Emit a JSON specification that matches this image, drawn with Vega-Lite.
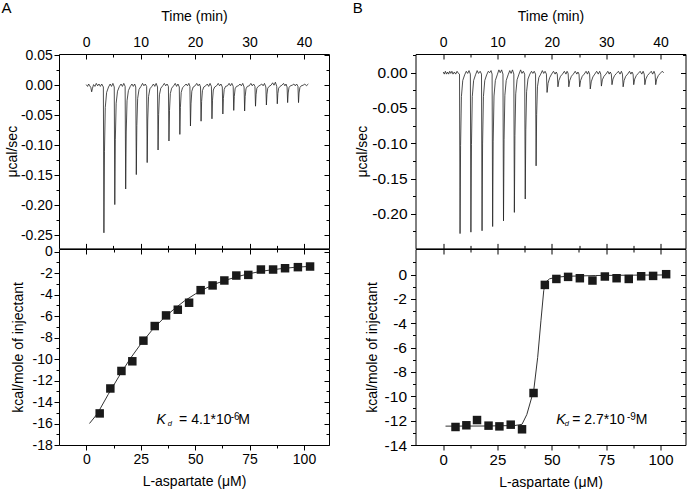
{
"$schema": "https://vega.github.io/schema/vega-lite/v6.json",
"background": "white",
"padding": {"left": 0, "top": 0, "right": 5, "bottom": 2},
"config": {
  "view": {"stroke": "#000", "strokeWidth": 1},
  "font": "Liberation Sans",
  "locale": {"number": {"decimal": ".", "thousands": ",", "grouping": [3], "currency": ["$", ""], "minus": "-"}},
  "axis": {"domain": false, "grid": false, "ticks": true, "tickColor": "#000", "tickOpacity": 1, "tickWidth": 1, "labelColor": "#000", "titleColor": "#000", "labelFont": "Liberation Sans", "titleFont": "Liberation Sans", "labelFontSize": 14, "titleFontSize": 14, "titleFontWeight": "normal", "labelFlush": false, "labelOverlap": false, "labelBound": false},
  "title": {"font": "Liberation Sans", "fontSize": 15, "fontWeight": "normal", "color": "#000"}
},
"datasets": {
  "ta": [
    {"t":0,"v":0.001},{"t":0.25,"v":-0.002},{"t":0.45,"v":0.002},{"t":0.65,"v":-0.001},{"t":0.85,"v":-0.004},{"t":1.0,"v":-0.011},{"t":1.15,"v":-0.005},{"t":1.35,"v":0.001},{"t":1.6,"v":-0.002},{"t":1.85,"v":0.003},{"t":2.1,"v":-0.001},{"t":2.35,"v":0.002},{"t":2.6,"v":-0.002},{"t":2.85,"v":0.002},
    {"t":3.15,"v":-0.003},{"t":3.25,"v":-0.246},{"t":3.35,"v":-0.111},{"t":3.5,"v":-0.037},{"t":3.75,"v":-0.012},{"t":4.1,"v":-0.003},{"t":4.4,"v":0.002},{"t":4.65,"v":-0.002},{"t":4.9,"v":0.003},
    {"t":5.15,"v":-0.003},{"t":5.25,"v":-0.199},{"t":5.35,"v":-0.090},{"t":5.5,"v":-0.030},{"t":5.75,"v":-0.010},{"t":6.1,"v":-0.002},{"t":6.4,"v":0.002},{"t":6.65,"v":-0.002},{"t":6.9,"v":0.003},
    {"t":7.15,"v":-0.002},{"t":7.25,"v":-0.173},{"t":7.35,"v":-0.078},{"t":7.5,"v":-0.026},{"t":7.75,"v":-0.009},{"t":8.1,"v":-0.002},{"t":8.4,"v":0.002},{"t":8.65,"v":-0.002},{"t":8.9,"v":0.002},
    {"t":9.1,"v":-0.003},{"t":9.2,"v":-0.149},{"t":9.3,"v":-0.067},{"t":9.45,"v":-0.022},{"t":9.7,"v":-0.007},{"t":10.05,"v":-0.002},{"t":10.35,"v":0.003},{"t":10.6,"v":-0.001},{"t":10.85,"v":0.002},
    {"t":11.1,"v":-0.002},{"t":11.2,"v":-0.129},{"t":11.3,"v":-0.058},{"t":11.45,"v":-0.019},{"t":11.7,"v":-0.006},{"t":12.05,"v":-0.002},{"t":12.35,"v":0.002},{"t":12.6,"v":-0.002},{"t":12.85,"v":0.003},
    {"t":13.1,"v":-0.003},{"t":13.2,"v":-0.108},{"t":13.3,"v":-0.049},{"t":13.45,"v":-0.016},{"t":13.7,"v":-0.005},{"t":14.05,"v":-0.001},{"t":14.35,"v":0.003},{"t":14.6,"v":-0.001},{"t":14.85,"v":0.002},
    {"t":15.1,"v":-0.002},{"t":15.2,"v":-0.093},{"t":15.3,"v":-0.042},{"t":15.45,"v":-0.014},{"t":15.7,"v":-0.005},{"t":16.05,"v":-0.001},{"t":16.35,"v":0.003},{"t":16.6,"v":-0.002},{"t":16.85,"v":0.002},
    {"t":17.1,"v":-0.003},{"t":17.2,"v":-0.082},{"t":17.3,"v":-0.037},{"t":17.45,"v":-0.012},{"t":17.7,"v":-0.004},{"t":18.05,"v":-0.001},{"t":18.35,"v":0.002},{"t":18.6,"v":-0.001},{"t":18.85,"v":0.003},
    {"t":19.05,"v":-0.002},{"t":19.15,"v":-0.068},{"t":19.25,"v":-0.031},{"t":19.4,"v":-0.010},{"t":19.65,"v":-0.003},{"t":20.0,"v":-0.001},{"t":20.3,"v":0.003},{"t":20.55,"v":-0.001},{"t":20.8,"v":0.002},
    {"t":21.0,"v":-0.003},{"t":21.1,"v":-0.060},{"t":21.2,"v":-0.027},{"t":21.35,"v":-0.009},{"t":21.6,"v":-0.003},{"t":21.95,"v":-0.001},{"t":22.25,"v":0.002},{"t":22.5,"v":-0.002},{"t":22.75,"v":0.003},
    {"t":23.0,"v":-0.002},{"t":23.1,"v":-0.056},{"t":23.2,"v":-0.025},{"t":23.35,"v":-0.008},{"t":23.6,"v":-0.003},{"t":23.95,"v":-0.001},{"t":24.25,"v":0.003},{"t":24.5,"v":-0.001},{"t":24.75,"v":0.002},
    {"t":25.0,"v":-0.003},{"t":25.1,"v":-0.048},{"t":25.2,"v":-0.022},{"t":25.35,"v":-0.007},{"t":25.6,"v":-0.002},{"t":25.95,"v":-0.001},{"t":26.25,"v":0.003},{"t":26.5,"v":-0.001},{"t":26.75,"v":0.003},
    {"t":27.0,"v":-0.002},{"t":27.1,"v":-0.042},{"t":27.2,"v":-0.019},{"t":27.35,"v":-0.006},{"t":27.6,"v":-0.002},{"t":27.95,"v":-0.001},{"t":28.25,"v":0.002},{"t":28.5,"v":-0.001},{"t":28.75,"v":0.003},
    {"t":29.0,"v":-0.003},{"t":29.1,"v":-0.043},{"t":29.2,"v":-0.019},{"t":29.35,"v":-0.006},{"t":29.6,"v":-0.002},{"t":29.95,"v":-0.001},{"t":30.25,"v":0.003},{"t":30.5,"v":-0.001},{"t":30.75,"v":0.002},
    {"t":31.0,"v":-0.002},{"t":31.1,"v":-0.035},{"t":31.2,"v":-0.016},{"t":31.35,"v":-0.005},{"t":31.6,"v":-0.002},{"t":31.95,"v":0.000},{"t":32.25,"v":0.002},{"t":32.5,"v":-0.001},{"t":32.75,"v":0.003},
    {"t":33.0,"v":-0.003},{"t":33.1,"v":-0.033},{"t":33.2,"v":-0.015},{"t":33.35,"v":-0.005},{"t":33.6,"v":-0.002},{"t":33.95,"v":0.000},{"t":34.25,"v":0.004},{"t":34.5,"v":0.000},{"t":34.75,"v":0.005},
    {"t":35.0,"v":-0.002},{"t":35.1,"v":-0.031},{"t":35.2,"v":-0.014},{"t":35.35,"v":-0.005},{"t":35.6,"v":-0.002},{"t":35.95,"v":0.000},{"t":36.25,"v":0.003},{"t":36.5,"v":-0.001},{"t":36.7,"v":0.002},
    {"t":36.9,"v":-0.003},{"t":37.0,"v":-0.029},{"t":37.1,"v":-0.013},{"t":37.25,"v":-0.004},{"t":37.5,"v":-0.001},{"t":37.85,"v":0.000},{"t":38.15,"v":0.002},{"t":38.4,"v":-0.001},{"t":38.65,"v":0.002},
    {"t":38.9,"v":-0.002},{"t":39.0,"v":-0.029},{"t":39.1,"v":-0.013},{"t":39.25,"v":-0.004},{"t":39.5,"v":-0.001},{"t":39.85,"v":0.000},{"t":40.15,"v":0.002},{"t":40.45,"v":-0.001},{"t":40.8,"v":0.002}
  ],
  "tb": [
    {"t":0,"v":0.001},{"t":0.2,"v":-0.002},{"t":0.4,"v":0.002},{"t":0.6,"v":-0.002},{"t":0.8,"v":0.001},{"t":1.0,"v":-0.002},{"t":1.2,"v":0.002},{"t":1.4,"v":-0.001},{"t":1.6,"v":0.002},{"t":1.8,"v":-0.002},{"t":2.05,"v":0.001},{"t":2.3,"v":-0.002},{"t":2.55,"v":0.002},{"t":2.8,"v":-0.001},
    {"t":3.0,"v":-0.002},{"t":3.1,"v":-0.228},{"t":3.2,"v":-0.103},{"t":3.35,"v":-0.034},{"t":3.6,"v":-0.011},{"t":3.95,"v":-0.003},{"t":4.25,"v":0.002},{"t":4.5,"v":-0.001},{"t":4.75,"v":0.003},
    {"t":5.0,"v":-0.002},{"t":5.1,"v":-0.226},{"t":5.2,"v":-0.102},{"t":5.35,"v":-0.034},{"t":5.6,"v":-0.011},{"t":5.95,"v":-0.003},{"t":6.25,"v":0.003},{"t":6.5,"v":-0.001},{"t":6.8,"v":0.002},
    {"t":7.05,"v":-0.002},{"t":7.15,"v":-0.224},{"t":7.25,"v":-0.101},{"t":7.4,"v":-0.034},{"t":7.65,"v":-0.011},{"t":8.0,"v":-0.003},{"t":8.3,"v":0.002},{"t":8.55,"v":0.000},{"t":8.8,"v":0.003},
    {"t":9.0,"v":-0.002},{"t":9.1,"v":-0.218},{"t":9.2,"v":-0.098},{"t":9.35,"v":-0.033},{"t":9.6,"v":-0.011},{"t":9.95,"v":-0.003},{"t":10.25,"v":0.004},{"t":10.5,"v":0.000},{"t":10.75,"v":0.004},
    {"t":11.0,"v":-0.002},{"t":11.1,"v":-0.210},{"t":11.2,"v":-0.095},{"t":11.35,"v":-0.032},{"t":11.6,"v":-0.011},{"t":11.95,"v":-0.003},{"t":12.25,"v":0.003},{"t":12.5,"v":-0.001},{"t":12.75,"v":0.004},
    {"t":13.0,"v":-0.002},{"t":13.1,"v":-0.198},{"t":13.2,"v":-0.089},{"t":13.35,"v":-0.030},{"t":13.6,"v":-0.010},{"t":13.95,"v":-0.002},{"t":14.25,"v":0.004},{"t":14.5,"v":-0.001},{"t":14.75,"v":0.002},
    {"t":15.0,"v":-0.002},{"t":15.1,"v":-0.179},{"t":15.2,"v":-0.081},{"t":15.35,"v":-0.027},{"t":15.6,"v":-0.009},{"t":15.95,"v":-0.002},{"t":16.25,"v":0.002},{"t":16.5,"v":-0.001},{"t":16.75,"v":0.002},
    {"t":17.0,"v":-0.002},{"t":17.1,"v":-0.132},{"t":17.2,"v":-0.059},{"t":17.35,"v":-0.020},{"t":17.6,"v":-0.007},{"t":17.95,"v":-0.002},{"t":18.25,"v":0.003},{"t":18.5,"v":-0.001},{"t":18.75,"v":0.002},
    {"t":19.0,"v":-0.002},{"t":19.12,"v":-0.028},{"t":19.3,"v":-0.015},{"t":19.6,"v":-0.007},{"t":19.95,"v":-0.002},{"t":20.3,"v":0.002},{"t":20.6,"v":-0.002},{"t":20.8,"v":0.001},
    {"t":21.0,"v":-0.002},{"t":21.12,"v":-0.020},{"t":21.3,"v":-0.011},{"t":21.6,"v":-0.005},{"t":21.95,"v":-0.002},{"t":22.3,"v":0.002},{"t":22.6,"v":-0.002},{"t":22.8,"v":0.002},
    {"t":23.0,"v":-0.001},{"t":23.12,"v":-0.020},{"t":23.3,"v":-0.011},{"t":23.6,"v":-0.005},{"t":23.95,"v":-0.002},{"t":24.3,"v":0.002},{"t":24.6,"v":-0.002},{"t":24.8,"v":0.001},
    {"t":25.0,"v":-0.002},{"t":25.12,"v":-0.020},{"t":25.3,"v":-0.011},{"t":25.6,"v":-0.005},{"t":25.95,"v":-0.002},{"t":26.3,"v":0.002},{"t":26.55,"v":-0.002},{"t":26.75,"v":0.002},
    {"t":26.95,"v":-0.002},{"t":27.07,"v":-0.023},{"t":27.25,"v":-0.013},{"t":27.55,"v":-0.006},{"t":27.9,"v":-0.002},{"t":28.25,"v":0.002},{"t":28.55,"v":-0.002},{"t":28.8,"v":0.002},
    {"t":29.0,"v":-0.002},{"t":29.12,"v":-0.019},{"t":29.3,"v":-0.010},{"t":29.6,"v":-0.005},{"t":29.95,"v":-0.002},{"t":30.3,"v":0.002},{"t":30.55,"v":-0.002},{"t":30.75,"v":0.001},
    {"t":30.95,"v":-0.002},{"t":31.07,"v":-0.017},{"t":31.25,"v":-0.009},{"t":31.55,"v":-0.004},{"t":31.9,"v":-0.001},{"t":32.25,"v":0.002},{"t":32.55,"v":-0.002},{"t":32.8,"v":0.002},
    {"t":33.0,"v":-0.002},{"t":33.12,"v":-0.020},{"t":33.3,"v":-0.011},{"t":33.6,"v":-0.005},{"t":33.95,"v":-0.002},{"t":34.3,"v":0.002},{"t":34.55,"v":-0.002},{"t":34.75,"v":0.001},
    {"t":34.95,"v":-0.002},{"t":35.07,"v":-0.017},{"t":35.25,"v":-0.009},{"t":35.55,"v":-0.004},{"t":35.9,"v":-0.001},{"t":36.25,"v":0.002},{"t":36.55,"v":-0.002},{"t":36.8,"v":0.002},
    {"t":37.0,"v":-0.002},{"t":37.12,"v":-0.017},{"t":37.3,"v":-0.009},{"t":37.6,"v":-0.004},{"t":37.95,"v":-0.001},{"t":38.3,"v":0.002},{"t":38.55,"v":-0.002},{"t":38.8,"v":0.002},
    {"t":39.0,"v":-0.002},{"t":39.12,"v":-0.017},{"t":39.3,"v":-0.009},{"t":39.6,"v":-0.004},{"t":39.95,"v":-0.001},{"t":40.3,"v":0.002},{"t":40.6,"v":0.000}
  ],
  "pa": [
    {"c":6.1,"h":-15.06},{"c":11.0,"h":-12.74},{"c":16.1,"h":-11.11},{"c":21.1,"h":-10.21},{"c":26.2,"h":-8.29},{"c":31.4,"h":-6.93},{"c":36.6,"h":-5.94},{"c":42.0,"h":-5.41},{"c":47.2,"h":-4.76},{"c":52.5,"h":-3.59},{"c":58.0,"h":-3.15},{"c":63.4,"h":-2.69},{"c":68.9,"h":-2.23},{"c":74.4,"h":-2.17},{"c":80.2,"h":-1.67},{"c":85.8,"h":-1.67},{"c":91.3,"h":-1.55},{"c":97.2,"h":-1.45},{"c":102.8,"h":-1.39}
  ],
  "fa": [
    {"c":1.4,"h":-16.0},{"c":5,"h":-15.1},{"c":10,"h":-13.3},{"c":15,"h":-11.6},{"c":20,"h":-10.0},{"c":25,"h":-8.6},{"c":30,"h":-7.35},{"c":35,"h":-6.3},{"c":40,"h":-5.4},{"c":45,"h":-4.6},{"c":50,"h":-3.95},{"c":55,"h":-3.4},{"c":60,"h":-2.95},{"c":65,"h":-2.6},{"c":70,"h":-2.3},{"c":75,"h":-2.05},{"c":80,"h":-1.85},{"c":85,"h":-1.7},{"c":90,"h":-1.58},{"c":95,"h":-1.48},{"c":100,"h":-1.41},{"c":104,"h":-1.37}
  ],
  "pb": [
    {"c":5.7,"h":-12.52},{"c":10.7,"h":-12.38},{"c":15.6,"h":-11.95},{"c":20.9,"h":-12.41},{"c":25.9,"h":-12.47},{"c":31.1,"h":-12.33},{"c":36.3,"h":-12.71},{"c":41.6,"h":-9.73},{"c":46.8,"h":-0.85},{"c":52.1,"h":-0.36},{"c":57.5,"h":-0.19},{"c":62.9,"h":-0.30},{"c":68.7,"h":-0.49},{"c":74.4,"h":-0.16},{"c":79.8,"h":-0.30},{"c":85.4,"h":-0.36},{"c":91.1,"h":-0.14},{"c":96.6,"h":-0.11},{"c":102.6,"h":0.03}
  ],
  "fb": [
    {"c":1.1,"h":-12.45},{"c":20,"h":-12.44},{"c":33,"h":-12.4},{"c":36.3,"h":-12.3},{"c":38.5,"h":-11.5},{"c":41.7,"h":-9.5},{"c":43.5,"h":-6.8},{"c":45,"h":-3.8},{"c":46.3,"h":-1.3},{"c":47.3,"h":-0.6},{"c":49,"h":-0.35},{"c":52,"h":-0.22},{"c":57,"h":-0.14},{"c":70,"h":-0.08},{"c":85,"h":-0.05},{"c":103.5,"h":-0.03}
  ]
},
"columns": 2,
"bounds": "flush",
"spacing": {"column": 86.5, "row": 0},
"concat": [
  {
    "width": 270, "height": 194.4,
    "title": {"text": "A", "anchor": "start", "frame": "bounds", "offset": -6.1, "dx": -4},
    "layer": [
      {"data": {"name": "ta"}, "mark": {"type": "line", "color": "#222", "strokeWidth": 0.8},
       "encoding": {
         "x": {"field": "t", "type": "quantitative", "scale": {"domain": [-5, 44.6], "nice": false, "zero": false}, "axis": {"orient": "top", "values": [0,10,20,30,40], "tickColor": "#000", "tickWidth": 1, "tickSize": -5, "labelPadding": 9.4, "title": "Time (min)", "titlePadding": 12}},
         "y": {"field": "v", "type": "quantitative", "scale": {"domain": [-0.272, 0.052], "nice": false, "zero": false}, "axis": {"orient": "left", "values": [0.05,0,-0.05,-0.1,-0.15,-0.2,-0.25], "format": ".2f", "tickColor": "#000", "tickWidth": 1, "tickSize": 5, "labelPadding": 1.7, "title": "μcal/sec", "titlePadding": 1}}}},
      {"data": {"values": [{"t":0,"v":0}]}, "mark": {"type": "point", "opacity": 0},
       "encoding": {
         "x": {"field": "t", "type": "quantitative", "scale": {"domain": [-5, 44.6], "nice": false, "zero": false}, "axis": {"orient": "top", "values": [5,15,25,35], "tickColor": "#000", "tickWidth": 1, "tickSize": -3, "labels": false, "title": null}},
         "y": {"field": "v", "type": "quantitative", "scale": {"domain": [-0.272, 0.052], "nice": false, "zero": false}, "axis": {"orient": "left", "values": [0.025,-0.025,-0.075,-0.125,-0.175,-0.225], "tickColor": "#000", "tickWidth": 1, "tickSize": 3, "labels": false, "title": null}}}},
      {"data": {"values": [{"t":0,"v":0}]}, "mark": {"type": "point", "opacity": 0},
       "encoding": {
         "x": {"field": "t", "type": "quantitative", "scale": {"domain": [-5, 44.6], "nice": false, "zero": false}, "axis": {"orient": "bottom", "values": [0,10,20,30,40], "tickColor": "#000", "tickWidth": 1, "tickSize": -5, "labels": false, "title": null}},
         "y": {"field": "v", "type": "quantitative", "scale": {"domain": [-0.272, 0.052], "nice": false, "zero": false}, "axis": {"orient": "right", "values": [0.05,0,-0.05,-0.1,-0.15,-0.2,-0.25], "tickColor": "#000", "tickWidth": 1, "tickSize": -5, "labels": false, "title": null}}}},
      {"data": {"values": [{"t":0,"v":0}]}, "mark": {"type": "point", "opacity": 0},
       "encoding": {
         "x": {"field": "t", "type": "quantitative", "scale": {"domain": [-5, 44.6], "nice": false, "zero": false}, "axis": {"orient": "bottom", "values": [5,15,25,35], "tickColor": "#000", "tickWidth": 1, "tickSize": -3, "labels": false, "title": null}},
         "y": {"field": "v", "type": "quantitative", "scale": {"domain": [-0.272, 0.052], "nice": false, "zero": false}, "axis": {"orient": "right", "values": [0.025,-0.025,-0.075,-0.125,-0.175,-0.225], "tickColor": "#000", "tickWidth": 1, "tickSize": -3, "labels": false, "title": null}}}}
    ],
    "resolve": {"axis": {"x": "independent", "y": "independent"}}
  },
  {
    "width": 270, "height": 194.4,
    "title": {"text": "B", "anchor": "start", "frame": "bounds", "offset": -6.1, "dx": -3},
    "layer": [
      {"data": {"name": "tb"}, "mark": {"type": "line", "color": "#222", "strokeWidth": 0.8},
       "encoding": {
         "x": {"field": "t", "type": "quantitative", "scale": {"domain": [-5.1, 44.6], "nice": false, "zero": false}, "axis": {"orient": "top", "values": [0,10,20,30,40], "tickColor": "#000", "tickWidth": 1, "tickSize": -5, "labelPadding": 9.4, "title": "Time (min)", "titlePadding": 12}},
         "y": {"field": "v", "type": "quantitative", "scale": {"domain": [-0.249, 0.0265], "nice": false, "zero": false}, "axis": {"orient": "left", "values": [0,-0.05,-0.1,-0.15,-0.2], "format": ".2f", "labelFontSize": 15.5, "tickColor": "#000", "tickWidth": 1, "tickSize": 5, "labelPadding": 3.4, "title": "μcal/sec", "titlePadding": 2}}}},
      {"data": {"values": [{"t":0,"v":0}]}, "mark": {"type": "point", "opacity": 0},
       "encoding": {
         "x": {"field": "t", "type": "quantitative", "scale": {"domain": [-5.1, 44.6], "nice": false, "zero": false}, "axis": {"orient": "top", "values": [5,15,25,35], "tickColor": "#000", "tickWidth": 1, "tickSize": -3, "labels": false, "title": null}},
         "y": {"field": "v", "type": "quantitative", "scale": {"domain": [-0.249, 0.0265], "nice": false, "zero": false}, "axis": {"orient": "left", "values": [0.025,-0.025,-0.075,-0.125,-0.175,-0.225], "tickColor": "#000", "tickWidth": 1, "tickSize": 3, "labels": false, "title": null}}}},
      {"data": {"values": [{"t":0,"v":0}]}, "mark": {"type": "point", "opacity": 0},
       "encoding": {
         "x": {"field": "t", "type": "quantitative", "scale": {"domain": [-5.1, 44.6], "nice": false, "zero": false}, "axis": {"orient": "bottom", "values": [0,10,20,30,40], "tickColor": "#000", "tickWidth": 1, "tickSize": -5, "labels": false, "title": null}},
         "y": {"field": "v", "type": "quantitative", "scale": {"domain": [-0.249, 0.0265], "nice": false, "zero": false}, "axis": {"orient": "right", "values": [0,-0.05,-0.1,-0.15,-0.2], "tickColor": "#000", "tickWidth": 1, "tickSize": -5, "labels": false, "title": null}}}},
      {"data": {"values": [{"t":0,"v":0}]}, "mark": {"type": "point", "opacity": 0},
       "encoding": {
         "x": {"field": "t", "type": "quantitative", "scale": {"domain": [-5.1, 44.6], "nice": false, "zero": false}, "axis": {"orient": "bottom", "values": [5,15,25,35], "tickColor": "#000", "tickWidth": 1, "tickSize": -3, "labels": false, "title": null}},
         "y": {"field": "v", "type": "quantitative", "scale": {"domain": [-0.249, 0.0265], "nice": false, "zero": false}, "axis": {"orient": "right", "values": [0.025,-0.025,-0.075,-0.125,-0.175,-0.225], "tickColor": "#000", "tickWidth": 1, "tickSize": -3, "labels": false, "title": null}}}}
    ],
    "resolve": {"axis": {"x": "independent", "y": "independent"}}
  },
  {
    "width": 270, "height": 196,
    "layer": [
      {"data": {"name": "fa"}, "mark": {"type": "line", "color": "#333", "strokeWidth": 1},
       "encoding": {
         "x": {"field": "c", "type": "quantitative", "scale": {"domain": [-12.6, 111.5], "nice": false, "zero": false}, "axis": {"orient": "bottom", "values": [0,25,50,75,100], "tickColor": "#000", "tickWidth": 1, "tickSize": 5, "labelPadding": 2.8, "title": "L-aspartate (μM)", "titlePadding": 8}},
         "y": {"field": "h", "type": "quantitative", "scale": {"domain": [-18, 0.24], "nice": false, "zero": false}, "axis": {"orient": "left", "values": [0,-2,-4,-6,-8,-10,-12,-14,-16,-18], "tickColor": "#000", "tickWidth": 1, "tickSize": 5, "labelPadding": 1.7, "title": "kcal/mole of injectant", "titlePadding": 7}}}},
      {"data": {"name": "pa"}, "mark": {"type": "point", "shape": "square", "filled": true, "size": 72, "color": "#1a1a1a", "opacity": 1},
       "encoding": {
         "x": {"field": "c", "type": "quantitative", "scale": {"domain": [-12.6, 111.5], "nice": false, "zero": false}, "axis": {"orient": "bottom", "values": [12.5,37.5,62.5,87.5], "tickColor": "#000", "tickWidth": 1, "tickSize": 3, "labels": false, "title": null}},
         "y": {"field": "h", "type": "quantitative", "scale": {"domain": [-18, 0.24], "nice": false, "zero": false}, "axis": {"orient": "left", "values": [-1,-3,-5,-7,-9,-11,-13,-15,-17], "tickColor": "#000", "tickWidth": 1, "tickSize": 3, "labels": false, "title": null}}}},
      {"data": {"values": [{"c":0,"h":0}]}, "mark": {"type": "point", "opacity": 0},
       "encoding": {
         "x": {"field": "c", "type": "quantitative", "scale": {"domain": [-12.6, 111.5], "nice": false, "zero": false}, "axis": {"orient": "top", "values": [0,25,50,75,100], "tickColor": "#000", "tickWidth": 1, "tickSize": -5, "labels": false, "title": null}},
         "y": {"field": "h", "type": "quantitative", "scale": {"domain": [-18, 0.24], "nice": false, "zero": false}, "axis": {"orient": "right", "values": [0,-2,-4,-6,-8,-10,-12,-14,-16,-18], "tickColor": "#000", "tickWidth": 1, "tickSize": -5, "labels": false, "title": null}}}},
      {"data": {"values": [{"c":0,"h":0}]}, "mark": {"type": "point", "opacity": 0},
       "encoding": {
         "x": {"field": "c", "type": "quantitative", "scale": {"domain": [-12.6, 111.5], "nice": false, "zero": false}, "axis": {"orient": "top", "values": [12.5,37.5,62.5,87.5], "tickColor": "#000", "tickWidth": 1, "tickSize": -3, "labels": false, "title": null}},
         "y": {"field": "h", "type": "quantitative", "scale": {"domain": [-18, 0.24], "nice": false, "zero": false}, "axis": {"orient": "right", "values": [-1,-3,-5,-7,-9,-11,-13,-15,-17], "tickColor": "#000", "tickWidth": 1, "tickSize": -3, "labels": false, "title": null}}}},
      {"data": {"values": [{"c":32.2,"h":-16.02,"s":"K"}]}, "mark": {"type": "text", "align": "left", "baseline": "alphabetic", "fontSize": 14, "fontStyle": "italic", "color": "#000"},
       "encoding": {"x": {"field": "c", "type": "quantitative", "axis": null}, "y": {"field": "h", "type": "quantitative", "axis": null}, "text": {"field": "s"}}},
      {"data": {"values": [{"c":37.4,"h":-16.25,"s":"d"}]}, "mark": {"type": "text", "align": "left", "baseline": "alphabetic", "fontSize": 7.5, "fontStyle": "italic", "color": "#000"},
       "encoding": {"x": {"field": "c", "type": "quantitative", "axis": null}, "y": {"field": "h", "type": "quantitative", "axis": null}, "text": {"field": "s"}}},
      {"data": {"values": [{"c":42.6,"h":-16.02,"s":"= 4.1*10"}]}, "mark": {"type": "text", "align": "left", "baseline": "alphabetic", "fontSize": 14, "color": "#000"},
       "encoding": {"x": {"field": "c", "type": "quantitative", "axis": null}, "y": {"field": "h", "type": "quantitative", "axis": null}, "text": {"field": "s"}}},
      {"data": {"values": [{"c":66.3,"h":-15.65,"s":"-6"}]}, "mark": {"type": "text", "align": "left", "baseline": "alphabetic", "fontSize": 10, "color": "#000"},
       "encoding": {"x": {"field": "c", "type": "quantitative", "axis": null}, "y": {"field": "h", "type": "quantitative", "axis": null}, "text": {"field": "s"}}},
      {"data": {"values": [{"c":69.8,"h":-16.02,"s":"M"}]}, "mark": {"type": "text", "align": "left", "baseline": "alphabetic", "fontSize": 14, "color": "#000"},
       "encoding": {"x": {"field": "c", "type": "quantitative", "axis": null}, "y": {"field": "h", "type": "quantitative", "axis": null}, "text": {"field": "s"}}}
    ],
    "resolve": {"axis": {"x": "independent", "y": "independent"}}
  },
  {
    "width": 270, "height": 196,
    "layer": [
      {"data": {"name": "fb"}, "mark": {"type": "line", "color": "#333", "strokeWidth": 1},
       "encoding": {
         "x": {"field": "c", "type": "quantitative", "scale": {"domain": [-12.7, 111.5], "nice": false, "zero": false}, "axis": {"orient": "bottom", "values": [0,25,50,75,100], "labelFontSize": 15, "tickColor": "#000", "tickWidth": 1, "tickSize": 5, "labelPadding": 2.8, "title": "L-aspartate (μM)", "titlePadding": 8}},
         "y": {"field": "h", "type": "quantitative", "scale": {"domain": [-14, 2.1], "nice": false, "zero": false}, "axis": {"orient": "left", "values": [0,-2,-4,-6,-8,-10,-12,-14], "labelFontSize": 15.5, "tickColor": "#000", "tickWidth": 1, "tickSize": 5, "labelPadding": 4, "title": "kcal/mole of injectant", "titlePadding": 5}}}},
      {"data": {"name": "pb"}, "mark": {"type": "point", "shape": "square", "filled": true, "size": 72, "color": "#1a1a1a", "opacity": 1},
       "encoding": {
         "x": {"field": "c", "type": "quantitative", "scale": {"domain": [-12.7, 111.5], "nice": false, "zero": false}, "axis": {"orient": "bottom", "values": [12.5,37.5,62.5,87.5], "tickColor": "#000", "tickWidth": 1, "tickSize": 3, "labels": false, "title": null}},
         "y": {"field": "h", "type": "quantitative", "scale": {"domain": [-14, 2.1], "nice": false, "zero": false}, "axis": {"orient": "left", "values": [1,-1,-3,-5,-7,-9,-11,-13], "tickColor": "#000", "tickWidth": 1, "tickSize": 3, "labels": false, "title": null}}}},
      {"data": {"values": [{"c":0,"h":0}]}, "mark": {"type": "point", "opacity": 0},
       "encoding": {
         "x": {"field": "c", "type": "quantitative", "scale": {"domain": [-12.7, 111.5], "nice": false, "zero": false}, "axis": {"orient": "top", "values": [0,25,50,75,100], "tickColor": "#000", "tickWidth": 1, "tickSize": -5, "labels": false, "title": null}},
         "y": {"field": "h", "type": "quantitative", "scale": {"domain": [-14, 2.1], "nice": false, "zero": false}, "axis": {"orient": "right", "values": [0,-2,-4,-6,-8,-10,-12,-14], "tickColor": "#000", "tickWidth": 1, "tickSize": -5, "labels": false, "title": null}}}},
      {"data": {"values": [{"c":0,"h":0}]}, "mark": {"type": "point", "opacity": 0},
       "encoding": {
         "x": {"field": "c", "type": "quantitative", "scale": {"domain": [-12.7, 111.5], "nice": false, "zero": false}, "axis": {"orient": "top", "values": [12.5,37.5,62.5,87.5], "tickColor": "#000", "tickWidth": 1, "tickSize": -3, "labels": false, "title": null}},
         "y": {"field": "h", "type": "quantitative", "scale": {"domain": [-14, 2.1], "nice": false, "zero": false}, "axis": {"orient": "right", "values": [1,-1,-3,-5,-7,-9,-11,-13], "tickColor": "#000", "tickWidth": 1, "tickSize": -3, "labels": false, "title": null}}}},
      {"data": {"values": [{"c":52.0,"h":-12.3,"s":"K"}]}, "mark": {"type": "text", "align": "left", "baseline": "alphabetic", "fontSize": 14, "fontStyle": "italic", "color": "#000"},
       "encoding": {"x": {"field": "c", "type": "quantitative", "axis": null}, "y": {"field": "h", "type": "quantitative", "axis": null}, "text": {"field": "s"}}},
      {"data": {"values": [{"c":56.0,"h":-12.46,"s":"d"}]}, "mark": {"type": "text", "align": "left", "baseline": "alphabetic", "fontSize": 7.5, "fontStyle": "italic", "color": "#000"},
       "encoding": {"x": {"field": "c", "type": "quantitative", "axis": null}, "y": {"field": "h", "type": "quantitative", "axis": null}, "text": {"field": "s"}}},
      {"data": {"values": [{"c":59.4,"h":-12.3,"s":"= 2.7*10"}]}, "mark": {"type": "text", "align": "left", "baseline": "alphabetic", "fontSize": 14, "color": "#000"},
       "encoding": {"x": {"field": "c", "type": "quantitative", "axis": null}, "y": {"field": "h", "type": "quantitative", "axis": null}, "text": {"field": "s"}}},
      {"data": {"values": [{"c":84.6,"h":-11.93,"s":"-9"}]}, "mark": {"type": "text", "align": "left", "baseline": "alphabetic", "fontSize": 10, "color": "#000"},
       "encoding": {"x": {"field": "c", "type": "quantitative", "axis": null}, "y": {"field": "h", "type": "quantitative", "axis": null}, "text": {"field": "s"}}},
      {"data": {"values": [{"c":88.6,"h":-12.3,"s":"M"}]}, "mark": {"type": "text", "align": "left", "baseline": "alphabetic", "fontSize": 14, "color": "#000"},
       "encoding": {"x": {"field": "c", "type": "quantitative", "axis": null}, "y": {"field": "h", "type": "quantitative", "axis": null}, "text": {"field": "s"}}}
    ],
    "resolve": {"axis": {"x": "independent", "y": "independent"}}
  }
]
}
